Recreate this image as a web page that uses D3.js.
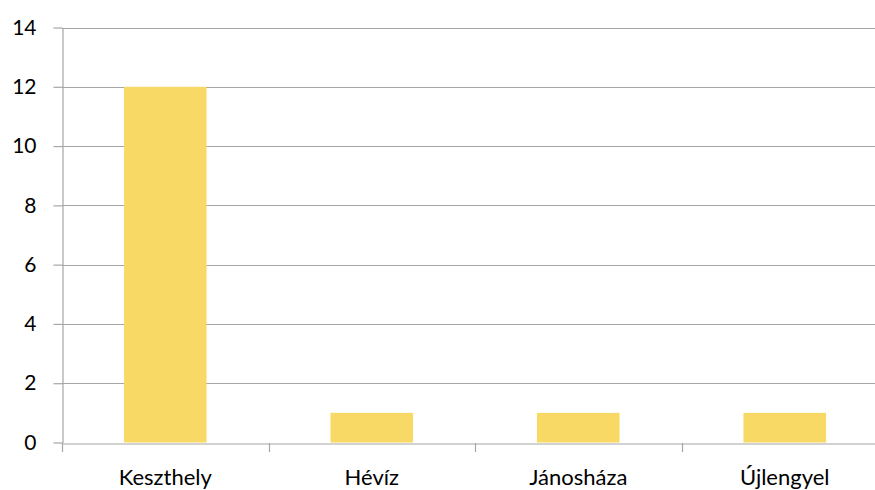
<!DOCTYPE html>
<html><head><meta charset="utf-8">
<script src="https://cdn.jsdelivr.net/npm/d3@7"></script>
<style>body{margin:0;background:#fff}svg{display:block}</style>
</head><body>
<svg id="c" width="875" height="490"></svg>
<script>
const categories = ["Keszthely", "Hévíz", "Jánosháza", "Újlengyel"];
const values = [12, 1, 1, 1];
const yTicks = [0, 2, 4, 6, 8, 10, 12, 14];

(function () {
const svg = d3.select("#c");
const mLeft = 62, mRight = 888, mTop = 27.5, mBottom = 442.5;
const font = "Lato, Calibri, 'Open Sans', sans-serif";
const gridColor = "#a6a6a6";

const x = d3.scaleBand().domain(categories).range([mLeft, mRight]).padding(0);
const y = d3.scaleLinear().domain([0, 14]).range([mBottom, mTop]);

// gridlines
svg.append("g").selectAll("line").data(yTicks.filter(d => d > 0)).join("line")
  .attr("x1", mLeft).attr("x2", mRight)
  .attr("y1", d => Math.round(y(d)) + 0.5).attr("y2", d => Math.round(y(d)) + 0.5)
  .attr("stroke", gridColor).attr("stroke-width", 1.2);

// bars
const bw = x.bandwidth() * 0.4;
svg.append("g").selectAll("rect").data(categories).join("rect")
  .attr("x", d => x(d) + (x.bandwidth() - bw) / 2)
  .attr("width", bw)
  .attr("y", (d, i) => y(values[i]))
  .attr("height", (d, i) => y(0) - y(values[i]))
  .attr("fill", "#f9d966");

// y axis
const yAxis = svg.append("g").attr("transform", `translate(${mLeft + 0.5},0)`)
  .call(d3.axisLeft(y).tickValues(yTicks).tickSize(9).tickPadding(17).tickSizeOuter(0));
yAxis.select(".domain").attr("stroke", gridColor).attr("stroke-width", 1.2);
yAxis.selectAll(".tick line").attr("stroke", gridColor).attr("stroke-width", 1.2);
yAxis.selectAll(".tick text").attr("font-family", font).attr("font-size", 21).attr("fill", "#000");

// x axis
const xAxis = svg.append("g").attr("transform", `translate(0,${Math.round(mBottom) + 0.5})`)
  .call(d3.axisBottom(x).tickSize(0));
xAxis.select(".domain").attr("stroke", gridColor).attr("stroke-width", 1.2);
xAxis.selectAll(".tick text").attr("font-family", font).attr("font-size", 22).attr("fill", "#000")
  .attr("y", 41).attr("dy", 0);
// category boundary ticks
const bounds = categories.map(c => x(c)).concat([mRight]);
svg.append("g").selectAll("line").data(bounds).join("line")
  .attr("x1", d => Math.round(d) + 0.5).attr("x2", d => Math.round(d) + 0.5)
  .attr("y1", Math.round(mBottom)).attr("y2", Math.round(mBottom) + 9)
  .attr("stroke", gridColor).attr("stroke-width", 1.2);
})();
</script>
</body></html>
